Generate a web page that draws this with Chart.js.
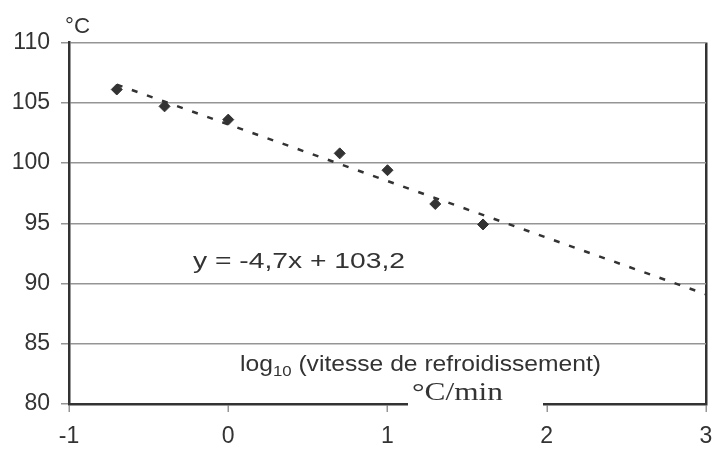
<!DOCTYPE html>
<html>
<head>
<meta charset="utf-8">
<script src="https://cdn.jsdelivr.net/npm/chart.js@4"></script>
<style>
  html, body { margin: 0; padding: 0; background: #fff; }
  #wrap { width: 715px; height: 449px; }
</style>
</head>
<body>
<div id="wrap"><canvas id="coolChart" width="715" height="449"></canvas></div>
<script>
// data
const xValues = [-0.7, -0.4, 0, 0.7, 1, 1.3, 1.6];
const yValues = [106.1, 104.7, 103.6, 100.8, 99.4, 96.6, 94.9];
// dashed trend line end points
const trendX = [-0.7, 3];
const trendY = [106.5, 89.1];
const xTicks = [-1, 0, 1, 2, 3];
const yTicks = [80, 85, 90, 95, 100, 105, 110];

const ink = '#333333';
const gridGray = '#959595';
const sans = '"Liberation Sans", Arial, sans-serif';
const serif = '"Liberation Serif", "Times New Roman", serif';

// draw text squeezed/stretched to a given width
function fitText(ctx, text, x, y, width) {
    const w = ctx.measureText(text).width;
    ctx.save();
    ctx.translate(x, y);
    ctx.scale(width / w, 1);
    ctx.fillText(text, 0, 0);
    ctx.restore();
}

const labelsPlugin = {
    id: 'labels',
    afterDraw(chart) {
        const ctx = chart.ctx;
        ctx.save();
        ctx.fillStyle = ink;
        ctx.textAlign = 'left';
        ctx.textBaseline = 'alphabetic';

        // unit on the y axis
        ctx.font = '22px ' + sans;
        fitText(ctx, '°C', 65, 33, 25);

        // regression equation
        ctx.font = '22px ' + sans;
        fitText(ctx, 'y = -4,7x + 103,2', 193, 268, 212);

        // axis title with subscript
        const sx = 1.12;
        let x = 240;
        const base = 371;
        ctx.font = '22px ' + sans;
        let w = ctx.measureText('log').width * sx;
        fitText(ctx, 'log', x, base, w);
        x += w;
        ctx.font = '15px ' + sans;
        w = ctx.measureText('10').width * sx;
        fitText(ctx, '10', x, base + 5, w);
        x += w;
        ctx.font = '22px ' + sans;
        w = ctx.measureText(' (vitesse de refroidissement)').width * sx;
        fitText(ctx, ' (vitesse de refroidissement)', x, base, w);

        // white box with the unit, over the x axis
        ctx.fillStyle = '#ffffff';
        ctx.fillRect(408, 381, 135, 28);
        ctx.fillStyle = ink;
        ctx.font = '25px ' + serif;
        fitText(ctx, '°C/min', 412, 400, 91);
        ctx.restore();
    }
};

new Chart(document.getElementById('coolChart'), {
    type: 'scatter',
    data: {
        datasets: [{
            label: 'mesures',
            data: xValues.map((v, i) => ({ x: v, y: yValues[i] })),
            pointStyle: 'rectRot',
            pointRadius: 5.5,
            pointHoverRadius: 5.5,
            backgroundColor: ink,
            borderColor: ink,
            borderWidth: 1,
            showLine: false,
            order: 1
        }, {
            label: 'tendance',
            data: trendX.map((v, i) => ({ x: v, y: trendY[i] })),
            showLine: true,
            borderColor: ink,
            borderWidth: 2.5,
            borderDash: [6, 10],
            pointRadius: 0,
            fill: false,
            order: 2
        }]
    },
    options: {
        responsive: false,
        animation: false,
        layout: { padding: { left: 0, right: 0, top: 42.5, bottom: 0 } },
        plugins: {
            legend: { display: false },
            tooltip: { enabled: false }
        },
        scales: {
            x: {
                type: 'linear',
                min: -1,
                max: 3,
                afterBuildTicks: s => { s.ticks = xTicks.map(v => ({ value: v })); },
                afterFit: s => { s.height = 45; s.paddingRight = 9; s.paddingLeft = 0; },
                ticks: { color: ink, font: { family: sans, size: 23 }, padding: 11 },
                grid: {
                    color: c => (c.tick && c.tick.value === 3 ? ink : 'rgba(0,0,0,0)'),
                    lineWidth: 2.5,
                    tickColor: gridGray,
                    tickWidth: 1.5,
                    tickLength: 8
                },
                border: { color: ink, width: 2.5 }
            },
            y: {
                type: 'linear',
                min: 80,
                max: 110,
                afterBuildTicks: s => { s.ticks = yTicks.map(v => ({ value: v })); },
                afterFit: s => { s.width = 69; },
                ticks: { color: ink, font: { family: sans, size: 23 }, padding: 11 },
                grid: {
                    color: gridGray,
                    lineWidth: 1.5,
                    tickLength: 8
                },
                border: { color: ink, width: 2.5 }
            }
        }
    },
    plugins: [labelsPlugin]
});
</script>
</body>
</html>
